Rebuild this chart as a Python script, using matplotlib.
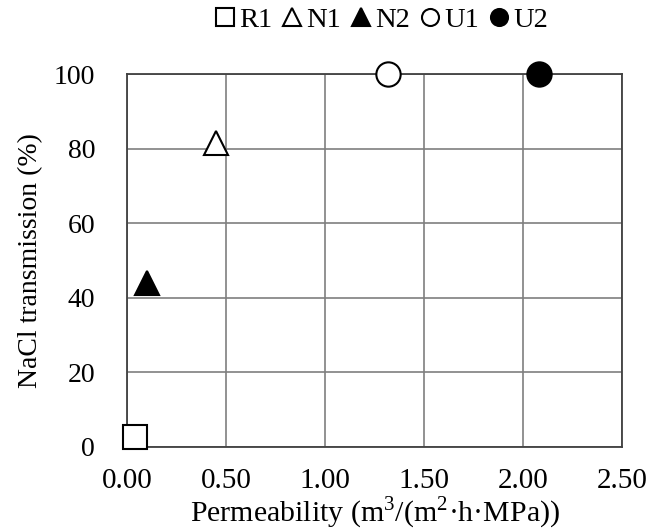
import matplotlib.pyplot as plt

plt.rcParams['font.family'] = ['Liberation Serif', 'DejaVu Serif']
plt.rcParams['mathtext.fontset'] = 'custom'
plt.rcParams['mathtext.rm'] = 'Liberation Serif'

# membrane data
names = ['R1', 'N1', 'N2', 'U1', 'U2']
permeability = [0.04, 0.45, 0.10, 1.32, 2.08]
transmission = [2.5, 81.5, 44, 100, 100]
markers = ['s', '^', '^', 'o', 'o']
faces = ['white', 'white', 'black', 'white', 'black']

xticks = [0.0, 0.5, 1.0, 1.5, 2.0, 2.5]
yticks = [0, 20, 40, 60, 80, 100]

fig = plt.figure(figsize=(6.59, 5.30), dpi=100)
ax = fig.add_axes([0.193, 0.157, 0.751, 0.703])

for n, x, y, m, f in zip(names, permeability, transmission, markers, faces):
    ax.plot(x, y, linestyle='none', marker=m, markersize=17.5, markerfacecolor=f,
            markeredgecolor='black', markeredgewidth=1.5, label=n, clip_on=False, zorder=5)

ax.set_xlim(0, 2.5)
ax.set_ylim(0, 100)
ax.set_xticks(xticks)
ax.set_xticklabels(['%.2f' % t for t in xticks])
ax.set_yticks(yticks)
ax.grid(True, color='#7f7f7f', linewidth=1.2)
ax.set_axisbelow(True)
ax.tick_params(length=0, labelsize=20)
ax.tick_params(axis='x', labelsize=21, pad=15)
ax.tick_params(axis='y', pad=23)
for s in ax.spines.values():
    s.set_color('#404040')
    s.set_linewidth(1.3)

ax.set_xlabel(r'Permeability (m$^{3}$/(m$^{2}$·h·MPa))', fontsize=21.5, labelpad=1)
ax.set_ylabel('NaCl transmission (%)', fontsize=20, labelpad=8)

leg = ax.legend(loc='lower center', bbox_to_anchor=(0.51, 1.08), ncol=5, frameon=False,
                fontsize=20.5, handletextpad=0.0, columnspacing=0.2, markerscale=0.7,
                borderaxespad=0, handlelength=1.0)

fig.savefig('out.png', dpi=100)
